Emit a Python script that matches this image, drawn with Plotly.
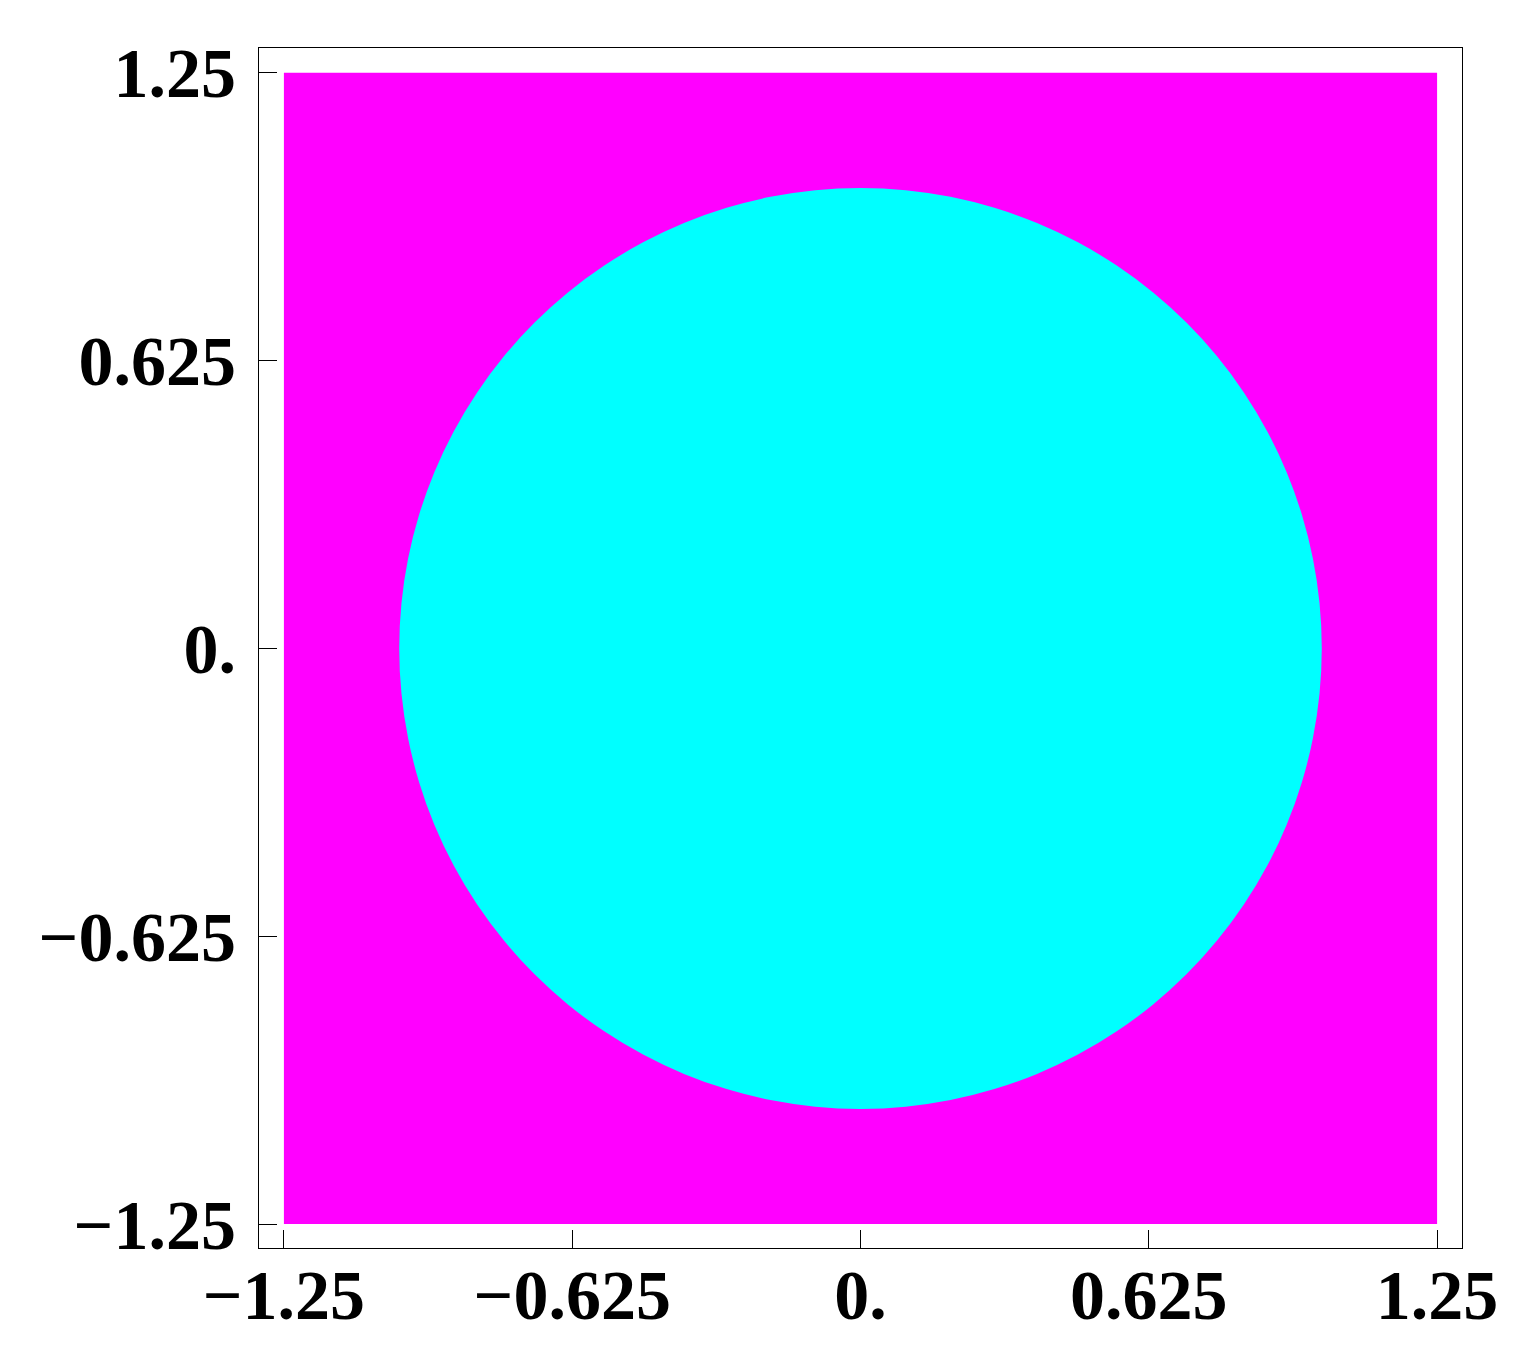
import plotly.graph_objects as go

# data
square_half = 1.25
disk_center = (0.0, 0.0)
disk_radius = 1.0
tick_values = [-1.25, -0.625, 0.0, 0.625, 1.25]
tick_labels = ["\u22121.25", "\u22120.625", "0.", "0.625", "1.25"]

MAGENTA = "#ff00ff"
CYAN = "#00ffff"

fig = go.Figure()
fig.add_shape(type="rect", xref="x", yref="y",
              x0=-square_half, x1=square_half, y0=-square_half, y1=square_half,
              fillcolor=MAGENTA, line=dict(width=0), layer="below")
fig.add_shape(type="circle", xref="x", yref="y",
              x0=disk_center[0] - disk_radius, x1=disk_center[0] + disk_radius,
              y0=disk_center[1] - disk_radius, y1=disk_center[1] + disk_radius,
              fillcolor=CYAN, line=dict(width=0), layer="below")
# invisible trace so axes render
fig.add_trace(go.Scatter(x=[-square_half, square_half], y=[-square_half, square_half],
                         mode="markers", marker=dict(opacity=0), hoverinfo="skip",
                         showlegend=False))

tickfont = dict(family="Liberation Serif", size=70, color="black", weight="bold")
axis_common = dict(
    tickvals=tick_values, ticktext=tick_labels, tickfont=tickfont,
    ticks="inside", ticklen=18, tickwidth=1, tickcolor="black",
    showline=True, linecolor="black", linewidth=1, mirror=True,
    showgrid=False, zeroline=False,
)
fig.update_xaxes(range=[-1.304, 1.304], ticklabelstandoff=-14, **axis_common)
fig.update_yaxes(range=[-1.302, 1.304], ticklabelstandoff=8, **axis_common)

fig.update_layout(
    width=1518, height=1366,
    margin=dict(l=251, r=64, t=40, b=126),
    plot_bgcolor="white", paper_bgcolor="white",
    showlegend=False,
)
fig.write_html("out.html")
